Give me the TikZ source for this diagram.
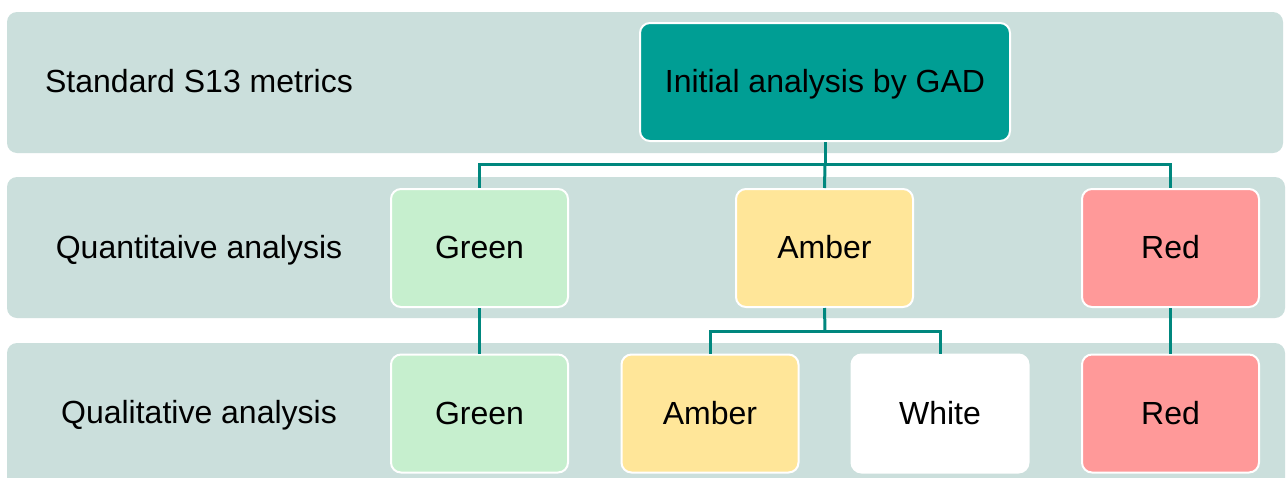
\documentclass[tikz,border=0pt]{standalone}
\usepackage{fontspec}
\setmainfont{Liberation Sans}
\definecolor{bandc}{HTML}{CBDFDC}
\definecolor{tealc}{HTML}{009E94}
\definecolor{linec}{HTML}{00877E}
\definecolor{greenc}{HTML}{C6EFCE}
\definecolor{amberc}{HTML}{FFE699}
\definecolor{redc}{HTML}{FF9999}
\tikzset{
  band/.style={fill=bandc, rounded corners=10pt},
  box/.style={draw=white, line width=2pt, rounded corners=10pt, minimum width=177pt, minimum height=118pt, inner sep=0pt, text height=21pt, text depth=0pt, font=\fontsize{32}{38}\selectfont},
  lbl/.style={font=\fontsize{32}{38}\selectfont, inner sep=0pt, anchor=base},
  conn/.style={draw=linec, line width=3pt}
}
\begin{document}
\begin{tikzpicture}[x=1pt,y=-1pt]
\useasboundingbox (0,0) rectangle (1287,477);
\fill[white] (0,0) rectangle (1287,477);
\fill[band] (7,12) rectangle (1283,153);
\fill[band] (7,177) rectangle (1285,318);
\fill[band] (7,343) rectangle (1285,500);
\node[lbl] (l1) at (199,92.5) {Standard S13 metrics};
\node[lbl] (l2) at (199,258) {Quantitaive analysis};
\node[lbl] (l3) at (199,423.5) {Qualitative analysis};
\node[box, fill=tealc, minimum width=370pt] (top) at (825,82) {Initial analysis by GAD};
\node[box, fill=greenc] (g1) at (479.5,248) {Green};
\node[box, fill=amberc] (a1) at (824.5,248) {Amber};
\node[box, fill=redc] (r1) at (1170.5,248) {Red};
\node[box, fill=greenc] (g2) at (479.5,413.5) {Green};
\node[box, fill=amberc] (a2) at (710,413.5) {Amber};
\node[box, fill=white] (w2) at (940,413.5) {White};
\node[box, fill=redc] (r2) at (1170.5,413.5) {Red};
\coordinate (h1) at (825,164);
\coordinate (h2) at (825,331);
\draw[conn] (top.south) -- (h1);
\draw[conn] (h1) -| (g1.north);
\draw[conn] (h1) -- (a1.north);
\draw[conn] (h1) -| (r1.north);
\draw[conn] (g1.south) -- (g2.north);
\draw[conn] (r1.south) -- (r2.north);
\draw[conn] (a1.south) -- (h2);
\draw[conn] (h2) -| (a2.north);
\draw[conn] (h2) -| (w2.north);
\end{tikzpicture}
\end{document}
